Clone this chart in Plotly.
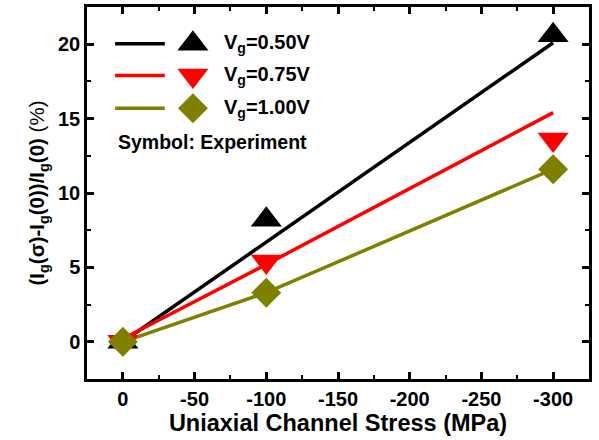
import plotly.graph_objects as go

# Data
stress = [0, -100, -300]
labels = ["V<sub>g</sub>=0.50V", "V<sub>g</sub>=0.75V", "V<sub>g</sub>=1.00V"]
colors = ["#000000", "#ff0000", "#808000"]
symbols = ["triangle-up", "triangle-down", "diamond"]
exp_050 = [0.0, 8.2, 20.6]
exp_075 = [0.0, 5.4, 13.6]
exp_100 = [0.0, 3.3, 11.6]
sim_050 = [0.0, 6.7, 20.1]
sim_075 = [0.2, 5.2, 15.4]
sim_100 = [0.0, 3.3, 11.6]
exp_sets = [exp_050, exp_075, exp_100]
sim_sets = [sim_050, sim_075, sim_100]
x_ticks = [0, -50, -100, -150, -200, -250, -300]
y_ticks = [0, 5, 10, 15, 20]

FONT = "Liberation Sans, Arial, sans-serif"
fig = go.Figure()

for sim, c in zip(sim_sets, colors):
    fig.add_trace(go.Scatter(x=stress, y=sim, mode="lines",
                             line=dict(color=c, width=3.5), showlegend=False))
for ex, c, s in zip(exp_sets, colors, symbols):
    size = 23 if s == "diamond" else 27
    fig.add_trace(go.Scatter(x=stress, y=ex, mode="markers",
                             marker=dict(color=c, symbol=s, size=size, line=dict(width=0)),
                             showlegend=False))

# Manual legend on an overlay axis (fractions of plot area)
leg_rows = [0.901, 0.816, 0.728]
for yr, c, s, lab in zip(leg_rows, colors, symbols, labels):
    fig.add_trace(go.Scatter(x=[0.056, 0.155], y=[yr, yr], mode="lines",
                             line=dict(color=c, width=3.5), xaxis="x2", yaxis="y2",
                             showlegend=False, hoverinfo="skip"))
    size = 23 if s == "diamond" else 27
    fig.add_trace(go.Scatter(x=[0.211], y=[yr], mode="markers",
                             marker=dict(color=c, symbol=s, size=size, line=dict(width=0)),
                             xaxis="x2", yaxis="y2", showlegend=False, hoverinfo="skip"))
    fig.add_annotation(x=0.268, y=yr, xref="x2", yref="y2", text="<b>" + lab + "</b>",
                       showarrow=False, xanchor="left", yanchor="middle",
                       font=dict(family=FONT, size=20, color="black"))
fig.add_annotation(x=0.058, y=0.637, xref="x2", yref="y2", text="<b>Symbol: Experiment</b>",
                   showarrow=False, xanchor="left", yanchor="middle",
                   font=dict(family=FONT, size=19.5, color="black"))

axis_common = dict(showgrid=False, zeroline=False, showline=True, linecolor="black",
                   linewidth=2.5, mirror="allticks", ticks="inside", ticklen=7,
                   tickwidth=2.5, tickcolor="black",
                   tickfont=dict(family=FONT, size=20, color="black", weight="bold"))

fig.update_layout(
    width=599, height=440,
    margin=dict(l=87, r=10, t=4, b=61),
    paper_bgcolor="white", plot_bgcolor="white",
    xaxis=dict(range=[25, -325], tickvals=x_ticks, ticktext=[str(v) for v in x_ticks],
               minor=dict(ticks="inside", ticklen=4, tickwidth=2, dtick=25, tick0=0, tickcolor="black"),
               title=dict(text="<b>Uniaxial Channel Stress (MPa)</b>", standoff=3,
                          font=dict(family=FONT, size=23.5, color="black")),
               **axis_common),
    yaxis=dict(range=[-2.5, 22.5], tickvals=y_ticks, ticktext=[str(v) for v in y_ticks],
               minor=dict(ticks="inside", ticklen=4, tickwidth=2, dtick=2.5, tick0=0, tickcolor="black"),
               title=dict(text="<b>(I<sub>g</sub>(σ)-I<sub>g</sub>(0))/I<sub>g</sub>(0)</b> (%)",
                          standoff=8, font=dict(family=FONT, size=20.5, color="black")),
               **axis_common),
    xaxis2=dict(overlaying="x", range=[0, 1], visible=False, fixedrange=True),
    yaxis2=dict(overlaying="y", range=[0, 1], visible=False, fixedrange=True),
    showlegend=False,
)

fig.write_html("out.html")
